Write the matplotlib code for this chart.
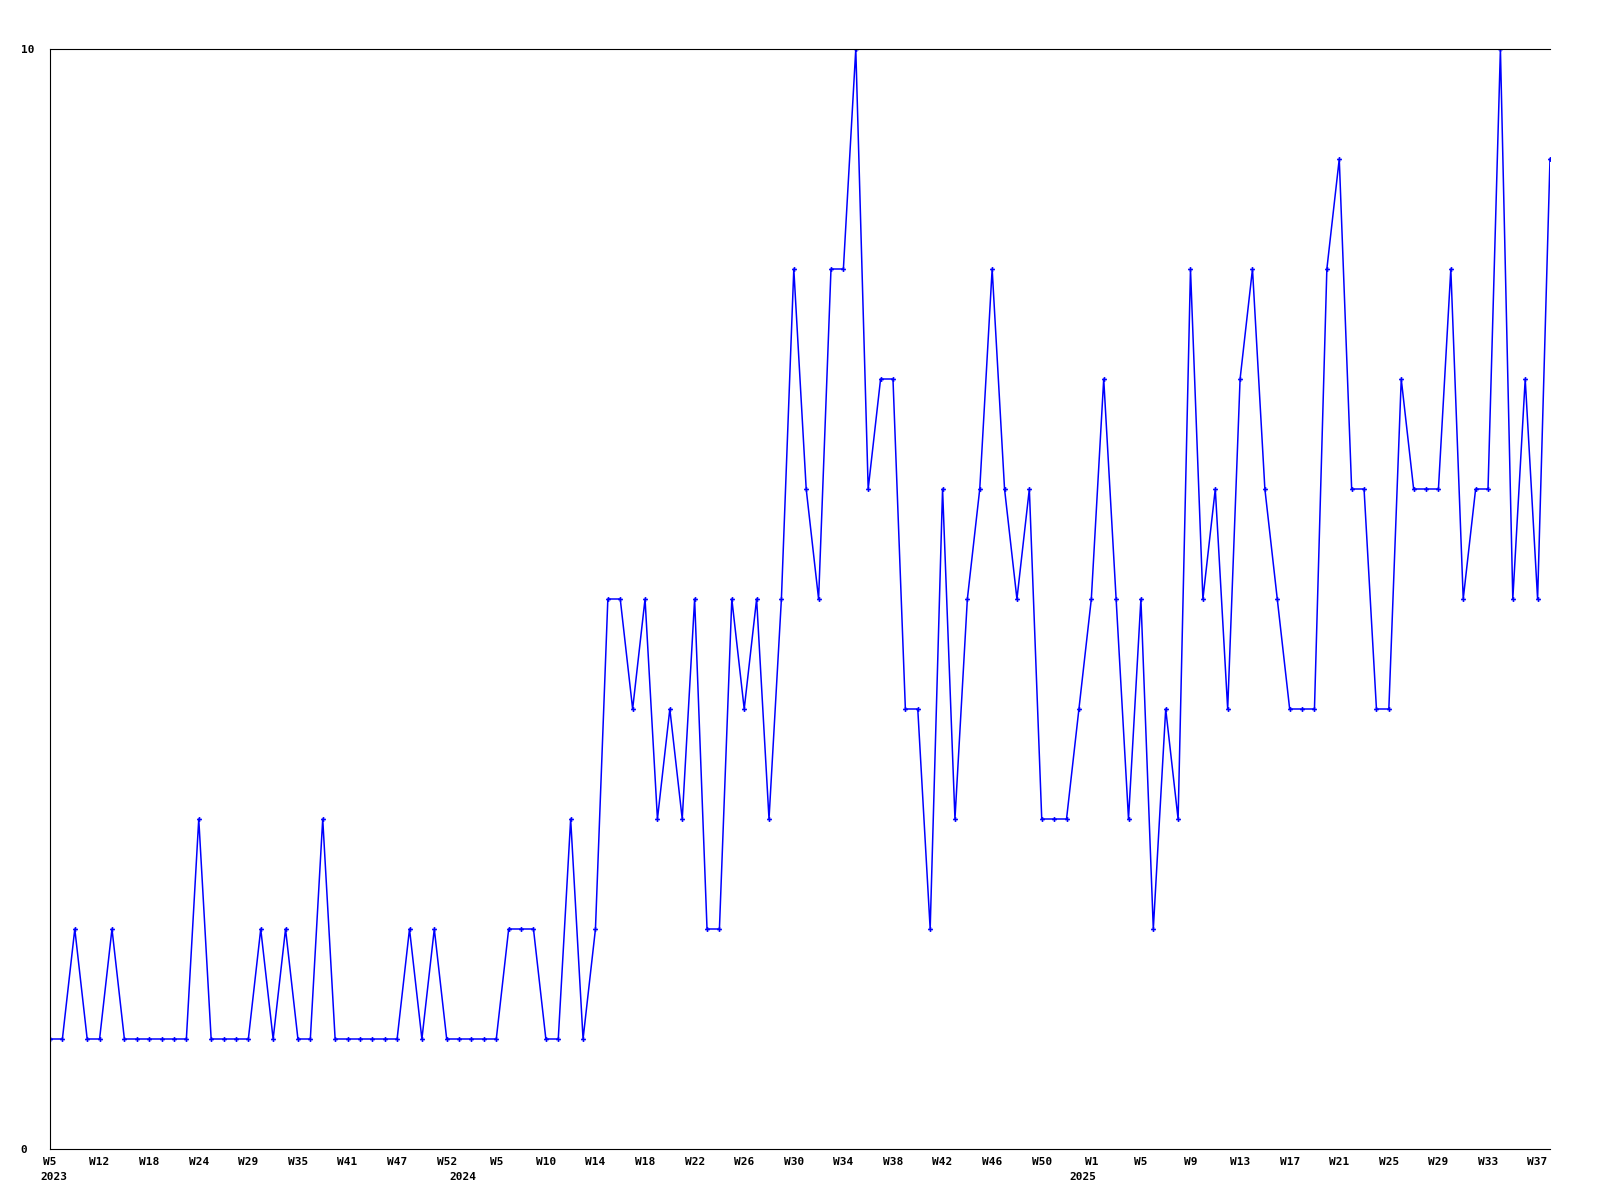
import matplotlib
matplotlib.use("Agg")
import matplotlib.pyplot as plt
import matplotlib.transforms as mtransforms

# =========================
# DATA
# =========================

nilai = [
    1, 1, 2, 1, 1, 2, 1, 1, 1, 1, 1, 1, 3, 1, 1, 1, 1, 2, 1, 2,
    1, 1, 3, 1, 1, 1, 1, 1, 1, 2, 1, 2, 1, 1, 1, 1, 1, 2, 2, 2,
    1, 1, 3, 1, 2, 5, 5, 4, 5, 3, 4, 3, 5, 2, 2, 5, 4, 5, 3, 5,
    8, 6, 5, 8, 8, 10, 6, 7, 7, 4, 4, 2, 6, 3, 5, 6, 8, 6, 5, 6,
    3, 3, 3, 4, 5, 7, 5, 3, 5, 2, 4, 3, 8, 5, 6, 4, 7, 8, 6, 5,
    4, 4, 4, 8, 9, 6, 6, 4, 4, 7, 6, 6, 6, 8, 5, 6, 6, 10, 5, 7,
    5, 9,
]

label_minggu = [
    "W5", "W12", "W18", "W24", "W29", "W35", "W41", "W47", "W52",
    "W5", "W10", "W14", "W18", "W22", "W26", "W30", "W34", "W38", "W42", "W46", "W50",
    "W1", "W5", "W9", "W13", "W17", "W21", "W25", "W29", "W33", "W37",
]
interval_label = 4

label_tahun = ["2023", "2024", "2025"]
posisi_tahun = [0.3, 33.3, 83.3]

y_ticks = [0, 10]

# =========================
# PLOT
# =========================

fig = plt.figure(figsize=(16, 12), dpi=100)
ax = fig.add_axes([50 / 1600, 51 / 1200, 1500 / 1600, 1100 / 1200])

x = list(range(len(nilai)))
ax.plot(x, nilai, color="#0000ff", linewidth=1.1, marker="P",
        markersize=3.5, markeredgewidth=0)

ax.set_xlim(0, len(nilai) - 1)
ax.set_ylim(0, 10)

font_label = dict(family="DejaVu Sans Mono", size=8, weight="bold")

ax.set_xticks(x[::interval_label])
ax.set_xticklabels(label_minggu, **font_label)
ax.set_yticks(y_ticks)
ax.set_yticklabels([str(v) for v in y_ticks], **font_label)
for lbl in ax.get_yticklabels():
    lbl.set_ha("left")

ax.tick_params(axis="x", length=0, pad=6)
ax.tick_params(axis="y", length=0, pad=21)

# label tahun di bawah label minggu
trans = mtransforms.blended_transform_factory(ax.transData, ax.transAxes)
for pos, teks in zip(posisi_tahun, label_tahun):
    ax.text(pos, -0.0255, teks, transform=trans, ha="center", va="center",
            **font_label)

ax.spines["right"].set_visible(False)
for s in ["left", "top", "bottom"]:
    ax.spines[s].set_linewidth(0.8)
    ax.spines[s].set_color("black")

fig.savefig("out.png", dpi=100)
